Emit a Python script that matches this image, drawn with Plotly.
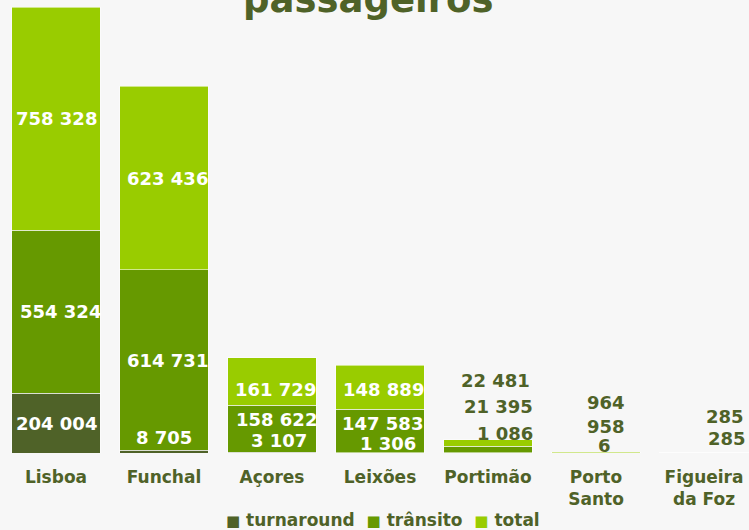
import plotly.graph_objects as go

# Passenger figures per port, split by type
categories = ["Lisboa", "Funchal", "Açores", "Leixões", "Portimão", "Porto<br>Santo", "Figueira<br>da Foz"]
turnaround = [204004, 8705, 3107, 1306, 1086, 6, 0]
transito = [554324, 614731, 158622, 147583, 21395, 958, 285]
total = [758328, 623436, 161729, 148889, 22481, 964, 285]

series_names = ["turnaround", "trânsito", "total"]
colors = ["#4f6228", "#669900", "#99cc00"]
olive = "#4f6228"
font_family = "DejaVu Sans"

# Label placement per segment: (x shift px, y shift px, inside?) ; None = no label
label_style = {
    "turnaround": [(0, 0, True), (0, 14, True), (7, 12, True), (8, 9, True), (17, 19, False), (8, 8, False), None],
    "trânsito": [(4, 0, True), (3, 0, True), (4, 9, True), (2, 7, True), (10, 43, False), (10, 26, False), (23, 14, False)],
    "total": [(0, 0, True), (3, 0, True), (3, -8, True), (3, -2, True), (7, 63, False), (10, 50, False), (21, 36, False)],
}

data = [turnaround, transito, total]
ymax = sum(v[0] for v in data)

fig = go.Figure()
for name, vals, col in zip(series_names, data, colors):
    fig.add_trace(go.Bar(
        x=categories, y=vals, name=name, showlegend=False,
        marker=dict(color=col, line=dict(color="rgba(255,255,255,0.55)", width=1)),
        hoverinfo="skip",
    ))


def fmt(v):
    return f"{v:,}".replace(",", " ")


annotations = []
base = [0] * len(categories)
for name, vals in zip(series_names, data):
    for i, v in enumerate(vals):
        st = label_style[name][i]
        mid = base[i] + v / 2
        base[i] += v
        if st is None:
            continue
        dx, dy, inside = st
        annotations.append(dict(
            x=categories[i], y=mid, xref="x", yref="y", text=fmt(v),
            showarrow=False, xshift=dx, yshift=dy,
            font=dict(family=font_family, size=18, weight="bold",
                      color="white" if inside else olive),
        ))

# Chart title, partly above the top edge
annotations.append(dict(
    x=0.49, y=1, xref="paper", yref="paper", text="passageiros",
    showarrow=False, yanchor="middle", yshift=8,
    font=dict(family=font_family, size=37, weight="bold", color=olive),
))

# Compact legend line: small coloured square followed by the series name
legend_text = "\u00a0\u00a0".join(
    f"<span style='color:{c};font-size:15px'>■</span>\u00a0{n}"
    for n, c in zip(series_names, colors)
)
annotations.append(dict(
    x=0.51, y=-0.15, xref="paper", yref="paper", text=legend_text,
    showarrow=False, xanchor="center", yanchor="middle",
    font=dict(family=font_family, size=17, weight="bold", color=olive),
))

fig.update_layout(
    width=749, height=530,
    barmode="stack", bargap=0.18,
    paper_bgcolor="#f7f7f7", plot_bgcolor="#f7f7f7",
    margin=dict(l=2, r=0, t=7, b=77, autoexpand=False),
    font=dict(family=font_family, size=17, color=olive, weight="bold"),
    xaxis=dict(range=[-0.5, -0.5 + 747 / 108], showgrid=False, zeroline=False,
               showline=False, ticks="", automargin=False, ticklabelstandoff=12,
               tickfont=dict(size=17, weight="bold", color=olive)),
    yaxis=dict(range=[0, ymax], visible=False, automargin=False),
    annotations=annotations,
    showlegend=False,
)

fig.write_html("out.html")
